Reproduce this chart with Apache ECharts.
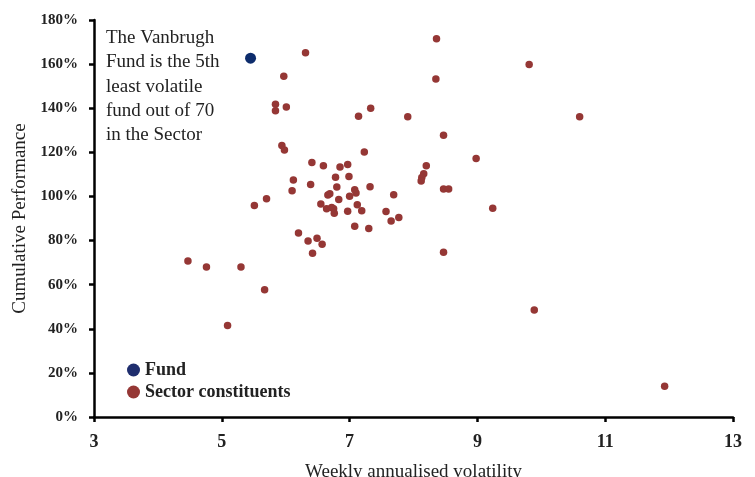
<!DOCTYPE html>
<html>
<head>
<meta charset="utf-8">
<script src="https://cdn.jsdelivr.net/npm/echarts@6/dist/echarts.min.js"></script>
<style>
html,body{margin:0;padding:0;background:#fff;}
#chart{width:755px;height:477px;}
</style>
</head>
<body>
<div id="chart"></div>
<script>
// Data (x: weekly annualised volatility, y: cumulative performance %)
const fundX = [5.45];
const fundY = [162.7];

const sectorX = [6.31,5.97,5.84,5.84,6.01,7.33,7.14,8.36,9.81,8.35,
                 7.91,10.60,8.47,8.98,5.94,5.98,7.23,6.41,6.59,6.85,
                 6.97,8.20,8.16,8.13,8.12,6.78,6.99,6.12,6.39,6.10,
                 6.80,7.32,7.08,7.10,6.66,6.69,7.00,7.69,8.47,8.55,
                 6.83,5.51,5.70,6.55,7.12,6.64,6.72,6.75,6.76,6.97,
                 7.19,7.57,7.65,7.77,9.24,7.08,7.30,6.20,6.49,6.35,
                 6.57,6.42,8.47,4.47,4.76,5.30,5.67,5.09,9.89,11.93];
const sectorY = [165.2,154.5,141.8,138.8,140.6,140.0,136.4,171.5,159.8,153.3,
                 136.1,136.1,127.8,117.2,123.1,121.1,120.2,115.4,113.9,113.3,
                 114.5,113.9,110.3,108.6,107.0,108.7,109.0,107.4,105.4,102.6,
                 104.3,104.4,103.0,101.6,100.7,101.2,100.1,100.8,103.4,103.4,
                 98.6,95.9,98.9,96.6,96.2,94.4,95.0,94.4,92.4,93.3,
                 93.5,93.2,88.9,90.4,94.7,86.5,85.5,83.4,81.0,79.8,
                 78.3,74.3,74.7,70.7,68.0,68.0,57.7,41.5,48.5,13.9];

const seriesNames = ['Fund', 'Sector constituents'];
const annotationLines = ['The Vanbrugh', 'Fund is the 5th', 'least volatile', 'fund out of 70', 'in the Sector'];
const xAxisTitle = 'Weekly annualised volatility';
const yAxisTitle = 'Cumulative Performance';

const fundData = fundX.map((x, i) => [x, fundY[i]]);
const sectorData = sectorX.map((x, i) => [x, sectorY[i]]);

const FONT = "'Liberation Serif', 'DejaVu Serif', serif";
const FUND_COLOR = '#0D2C6C';
const SECTOR_COLOR = '#953735';

const chart = echarts.init(document.getElementById('chart'), null, {renderer: 'canvas'});
chart.setOption({
  animation: false,
  backgroundColor: '#fff',
  grid: {left: 94, right: 22, top: 20, bottom: 60, containLabel: false, outerBoundsMode: 'none'},
  xAxis: {
    type: 'value', min: 3, max: 13, interval: 2,
    name: xAxisTitle, nameLocation: 'middle', nameGap: 46,
    nameTextStyle: {fontFamily: FONT, fontSize: 19, color: '#222'},
    axisLine: {show: true, onZero: false, lineStyle: {color: '#000', width: 2.5}},
    axisTick: {show: true, inside: false, length: 5, lineStyle: {color: '#000', width: 2.5}},
    axisLabel: {fontFamily: FONT, fontSize: 18, fontWeight: 'bold', color: '#222', margin: 16},
    splitLine: {show: false}
  },
  yAxis: {
    type: 'value', min: 0, max: 180, interval: 20,
    name: yAxisTitle, nameLocation: 'middle', nameGap: 59, nameRotate: 90,
    nameTextStyle: {fontFamily: FONT, fontSize: 19, color: '#222'},
    axisLine: {show: true, onZero: false, lineStyle: {color: '#000', width: 2.5}},
    axisTick: {show: true, inside: false, length: 5, lineStyle: {color: '#000', width: 2.5}},
    axisLabel: {fontFamily: FONT, fontSize: 15, fontWeight: 'bold', color: '#222', margin: 16,
      formatter: v => v + '%'},
    splitLine: {show: false}
  },
  legend: {
    orient: 'vertical', left: 122, top: 356, itemGap: 4,
    itemWidth: 13, itemHeight: 13,
    textStyle: {fontFamily: FONT, fontSize: 18, fontWeight: 'bold', color: '#222', padding: [0,0,0,0]},
    data: [
      {name: seriesNames[0], icon: 'circle', itemStyle: {color: '#1F2E6E'}},
      {name: seriesNames[1], icon: 'circle', itemStyle: {color: SECTOR_COLOR}}
    ]
  },
  graphic: [{
    type: 'text', left: 106, top: 26,
    style: {text: annotationLines.join('\n'), fontFamily: FONT, fontSize: 19, lineHeight: 24.3, fill: '#222'}
  }],
  series: [
    {name: seriesNames[1], type: 'scatter', data: sectorData, symbol: 'circle', symbolSize: 7.5,
     itemStyle: {color: SECTOR_COLOR, opacity: 1}, z: 2},
    {name: seriesNames[0], type: 'scatter', data: fundData, symbol: 'circle', symbolSize: 11,
     itemStyle: {color: FUND_COLOR, opacity: 1}, z: 3}
  ]
});
</script>
</body>
</html>
